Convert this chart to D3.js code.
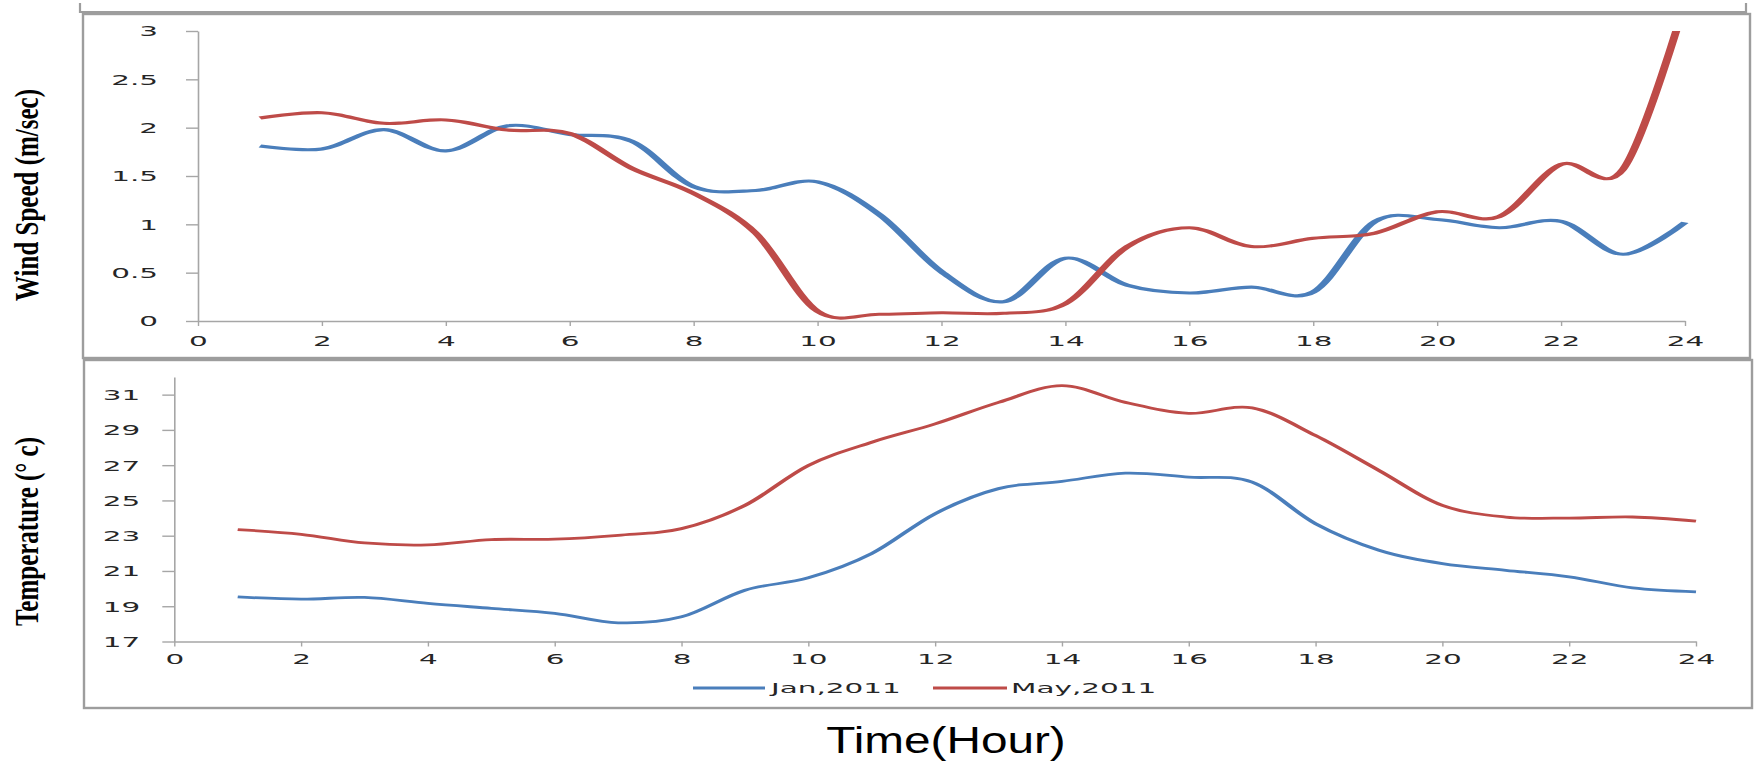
<!DOCTYPE html>
<html>
<head>
<meta charset="utf-8">
<script src="https://cdn.jsdelivr.net/npm/d3@7"></script>
<style>
  body { margin: 0; background: #fff; }
  svg { display: block; }
</style>
</head>
<body>
<svg id="fig" width="1756" height="763"></svg>
<script>
// Hourly observations, hours 1..24
const hours = d3.range(1, 25);

// Wind speed (m/sec)
const windJan = [1.81, 1.78, 1.98, 1.76, 2.02, 1.93, 1.86, 1.39, 1.35, 1.44, 1.10, 0.51,
                 0.20, 0.65, 0.37, 0.29, 0.35, 0.30, 1.03, 1.05, 0.965, 1.03, 0.69, 1.02];
const windMay = [2.10, 2.155, 2.045, 2.08, 1.975, 1.94, 1.58, 1.32, 0.91, 0.10, 0.07, 0.085,
                 0.08, 0.18, 0.77, 0.965, 0.77, 0.855, 0.91, 1.13, 1.08, 1.62, 1.57, 3.3];

// Temperature (°C)
const tempJan = [19.53, 19.40, 19.50, 19.16, 18.88, 18.60, 18.06, 18.40, 19.91, 20.61, 21.99, 24.25,
                 25.67, 26.08, 26.55, 26.32, 26.04, 23.68, 22.18, 21.42, 21.04, 20.67, 20.04, 19.82];
const tempMay = [23.35, 23.08, 22.59, 22.48, 22.78, 22.80, 23.02, 23.40, 24.72, 26.98, 28.30, 29.34,
                 30.56, 31.51, 30.56, 29.94, 30.25, 28.68, 26.70, 24.72, 24.06, 24.00, 24.06, 23.83];

const seriesNames = ["Jan,2011", "May,2011"];
const seriesColors = ["#4a7ebb", "#be4b48"];

const hourTicks = d3.range(0, 25, 2);
const windTicks = [0, 0.5, 1, 1.5, 2, 2.5, 3];
const tempTicks = [17, 19, 21, 23, 25, 27, 29, 31];

const svg = d3.select("#fig");
const AXIS_COLOR = "#a6a6a6";
const FRAME_COLOR = "#9d9d9d";
const TEXT_COLOR = "#262626";
const TICK_FONT = "'DejaVu Sans', Verdana, sans-serif";
const TEXT_STRETCH = 2.15;   // wide, horizontally stretched tick lettering

// Frames: the edge of the panel above, then the two chart panels
svg.append("path")
  .attr("d", "M80,3V12H1746V3")
  .attr("fill", "none").attr("stroke", FRAME_COLOR).attr("stroke-width", 2.2);
svg.append("rect").attr("x", 83).attr("y", 14).attr("width", 1667).attr("height", 344)
  .attr("fill", "none").attr("stroke", FRAME_COLOR).attr("stroke-width", 2.4);
svg.append("rect").attr("x", 84).attr("y", 360).attr("width", 1668).attr("height", 348)
  .attr("fill", "none").attr("stroke", FRAME_COLOR).attr("stroke-width", 2.4);

function stretchText(sel) {
  sel.each(function () {
    const t = d3.select(this);
    const x = +t.attr("x") || 0;
    const y = +t.attr("y") || 0;
    t.attr("x", 0).attr("y", 0)
     .attr("transform", `translate(${x},${y}) scale(${TEXT_STRETCH},1)`);
  });
}

function drawPanel(cfg) {
  const x = d3.scaleLinear().domain([0, 24]).range([cfg.x0, cfg.x1]);
  const y = d3.scaleLinear().domain(cfg.domain).range([cfg.yBot, cfg.yTop]);

  // Y axis
  const gy = svg.append("g").attr("transform", `translate(${cfg.x0},0)`)
    .call(d3.axisLeft(y).tickValues(cfg.ticks).tickSize(12).tickSizeOuter(0)
      .tickPadding(cfg.yLabelGap).tickFormat(d3.format("~g")));
  gy.select(".domain").attr("stroke", AXIS_COLOR).attr("stroke-width", 1.6);
  gy.selectAll(".tick line").attr("stroke", AXIS_COLOR).attr("stroke-width", 1.4);
  gy.selectAll("text")
    .attr("font-family", TICK_FONT).attr("font-size", 13.7).attr("fill", TEXT_COLOR)
    .attr("dy", "0.36em").call(stretchText);

  // X axis
  const gx = svg.append("g").attr("transform", `translate(0,${cfg.yBot})`)
    .call(d3.axisBottom(x).tickValues(hourTicks).tickSize(5).tickSizeOuter(0));
  gx.select(".domain").attr("stroke", AXIS_COLOR).attr("stroke-width", 1.6);
  gx.selectAll(".tick line").attr("stroke", AXIS_COLOR).attr("stroke-width", 1.4);
  gx.selectAll("text")
    .attr("font-family", TICK_FONT).attr("font-size", 13.7).attr("fill", TEXT_COLOR)
    .attr("y", cfg.xLabelOffset).attr("dy", "0.36em").call(stretchText);

  // Series lines, drawn in a horizontally stretched frame so that steep
  // stretches of the curve come out heavier than the flat ones
  const innerW = (cfg.x1 - cfg.x0) / cfg.lineStretch;
  const xi = d3.scaleLinear().domain([0, 24]).range([0, innerW]);
  const clipId = "clip-" + cfg.id;
  svg.append("clipPath").attr("id", clipId)
    .append("rect").attr("x", -20).attr("y", cfg.yTop)
    .attr("width", innerW + 40).attr("height", cfg.yBot - cfg.yTop + 30);

  const gl = svg.append("g")
    .attr("transform", `translate(${cfg.x0},0) scale(${cfg.lineStretch},1)`);
  const line = d3.line()
    .x((d, i) => xi(hours[i]))
    .y(d => y(d))
    .curve(d3.curveCatmullRom.alpha(0));
  cfg.series.forEach((vals, k) => {
    gl.append("path")
      .datum(vals)
      .attr("d", line)
      .attr("fill", "none")
      .attr("stroke", seriesColors[k])
      .attr("stroke-width", cfg.strokeWidth)
      .attr("stroke-linejoin", "round")
      .attr("clip-path", `url(#${clipId})`);
  });
}

drawPanel({
  id: "wind", x0: 198, x1: 1685, yTop: 31, yBot: 321, domain: [0, 3],
  ticks: windTicks, yLabelGap: 28, xLabelOffset: 20,
  lineStretch: 2.6, strokeWidth: 3.1, series: [windJan, windMay]
});

drawPanel({
  id: "temp", x0: 174.3, x1: 1696, yTop: 377, yBot: 641.5, domain: [17, 32],
  ticks: tempTicks, yLabelGap: 22, xLabelOffset: 17.5,
  lineStretch: 1.8, strokeWidth: 2.8, series: [tempJan, tempMay]
});

// Legend
const legendItems = [
  { x1: 693, x2: 765, tx: 771 },
  { x1: 933, x2: 1007, tx: 1011 }
];
const lg = svg.append("g");
legendItems.forEach((it, k) => {
  lg.append("line").attr("x1", it.x1).attr("x2", it.x2).attr("y1", 688).attr("y2", 688)
    .attr("stroke", seriesColors[k]).attr("stroke-width", 2.8);
  lg.append("text")
    .attr("transform", `translate(${it.tx},688) scale(${TEXT_STRETCH},1)`)
    .attr("dy", "0.36em")
    .attr("font-family", TICK_FONT).attr("font-size", 13.7).attr("fill", TEXT_COLOR)
    .text(seriesNames[k]);
});

// Axis titles
function vTitle(text, cx, cy) {
  svg.append("text")
    .attr("transform", `translate(${cx},${cy}) scale(1.37,1) rotate(-90)`)
    .attr("text-anchor", "middle")
    .attr("dominant-baseline", "central")
    .attr("font-family", "'Liberation Serif', 'Times New Roman', serif")
    .attr("font-weight", "bold")
    .attr("font-size", 25)
    .attr("fill", "#000")
    .text(text);
}
vTitle("Wind Speed (m/sec)", 26.5, 195);
vTitle("Temperature (° c)", 25.8, 531.5);

svg.append("text")
  .attr("transform", "translate(946,753) scale(1.29,1)")
  .attr("text-anchor", "middle")
  .attr("font-family", "'Liberation Sans', Arial, sans-serif")
  .attr("font-size", 37)
  .attr("fill", "#000")
  .text("Time(Hour)");
</script>
</body>
</html>
